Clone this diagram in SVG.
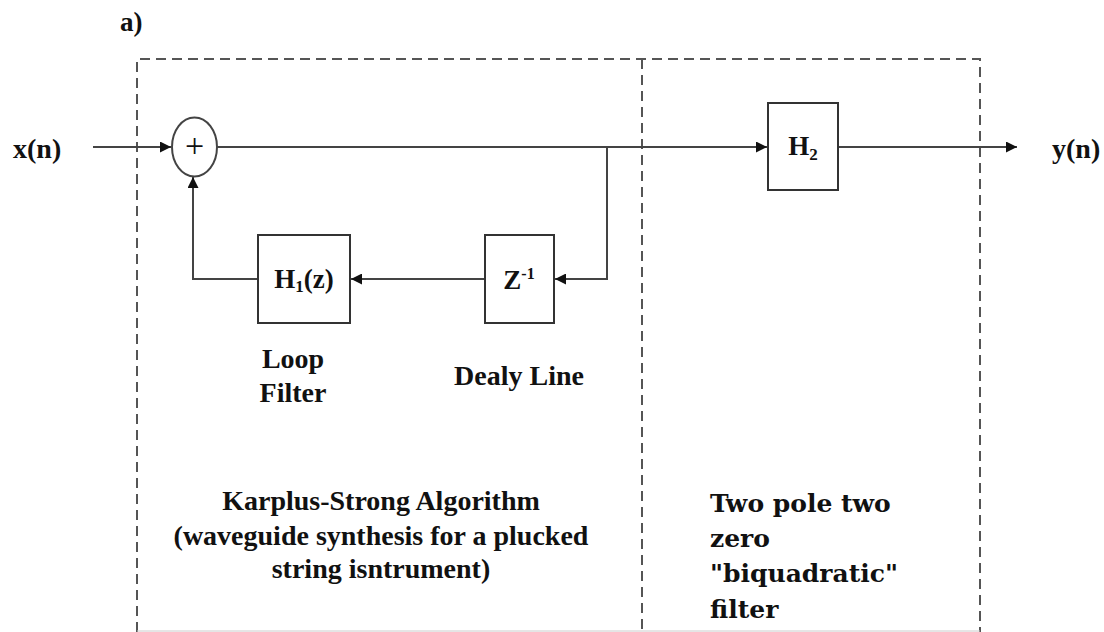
<svg xmlns="http://www.w3.org/2000/svg" width="1104" height="632" viewBox="0 0 1104 632">
<style>
text{font-family:'Liberation Serif','Times New Roman',serif;font-weight:bold;fill:#111}
.wide{font-family:'DejaVu Serif','Liberation Serif',serif;font-weight:bold}
.box{fill:#fff;stroke:#333;stroke-width:2}
.ln{fill:none;stroke:#444;stroke-width:2}
.dash{fill:none;stroke:#555;stroke-width:2;stroke-dasharray:10,6}
</style>
<defs>
<marker id="ah" viewBox="0 0 10 10" refX="10" refY="5" markerWidth="5.5" markerHeight="5.5" orient="auto" markerUnits="strokeWidth">
<path d="M0,0 L10,5 L0,10 z" fill="#111"/>
</marker>
</defs>
<rect width="1104" height="632" fill="#fff"/>
<text x="120" y="31" font-size="27">a)</text>
<g id="regions">
<path class="dash" d="M137,632 V59 H980 V632"/>
<path class="dash" d="M642,59 V632"/>
<line x1="137" y1="631" x2="980" y2="631" stroke="#ccc" stroke-width="1"/>
</g>
<g id="connectors">
<path class="ln" d="M93,147 H171" marker-end="url(#ah)"/>
<path class="ln" d="M217,147 H767" marker-end="url(#ah)"/>
<path class="ln" d="M838,147 H1017" marker-end="url(#ah)"/>
<path class="ln" d="M607,147 V279 H555" marker-end="url(#ah)"/>
<path class="ln" d="M485,279 H351" marker-end="url(#ah)"/>
<path class="ln" d="M258,279 H193 V177" marker-end="url(#ah)"/>
</g>
<g id="input"><text x="13" y="158" font-size="28">x(n)</text></g>
<g id="output"><text x="1052" y="158" font-size="28">y(n)</text></g>
<g id="sum">
<ellipse cx="194.5" cy="147" rx="22.5" ry="29.5" fill="#fff" stroke="#444" stroke-width="2"/>
<text x="194.5" y="157" font-size="34" text-anchor="middle" style="font-weight:normal">+</text>
</g>
<g id="h1">
<rect class="box" x="258" y="235" width="92" height="88"/>
<text x="304" y="288" font-size="27" text-anchor="middle">H<tspan font-size="17" dy="4">1</tspan><tspan dy="-4">(z)</tspan></text>
<text x="293" y="368" font-size="28" text-anchor="middle">Loop</text>
<text x="293" y="402" font-size="28" text-anchor="middle">Filter</text>
</g>
<g id="delay">
<rect class="box" x="485" y="235" width="69" height="88"/>
<text x="519" y="289" font-size="27" text-anchor="middle">Z<tspan font-size="16" dy="-10">-1</tspan></text>
<text x="519" y="385" font-size="28" text-anchor="middle">Dealy Line</text>
</g>
<g id="h2">
<rect class="box" x="768" y="103" width="70" height="87"/>
<text x="803" y="155" font-size="27" text-anchor="middle">H<tspan font-size="17" dy="5">2</tspan></text>
</g>
<g id="ks-label">
<text x="381" y="510" font-size="28" text-anchor="middle">Karplus-Strong Algorithm</text>
<text x="381" y="545" font-size="28" text-anchor="middle">(waveguide synthesis for a plucked</text>
<text x="381" y="578" font-size="28" text-anchor="middle">string isntrument)</text>
</g>
<g id="bq-label">
<text class="wide" x="710" y="512" font-size="25">Two pole two</text>
<text class="wide" x="710" y="547" font-size="25">zero</text>
<text class="wide" x="710" y="582" font-size="25">"biquadratic"</text>
<text class="wide" x="710" y="618" font-size="25">filter</text>
</g>
</svg>
